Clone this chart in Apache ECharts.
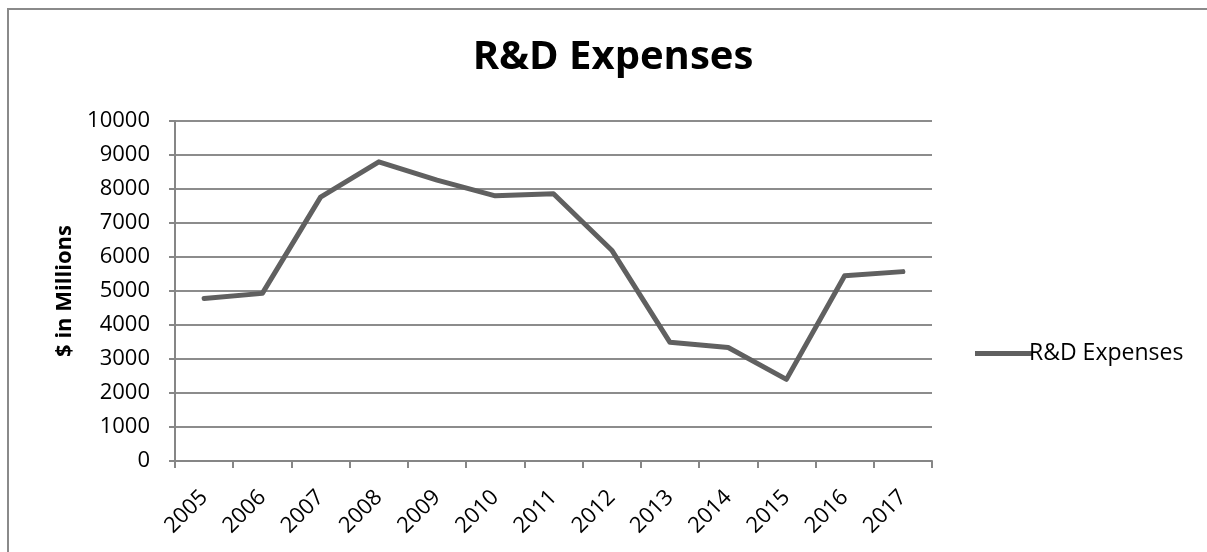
<!DOCTYPE html>
<html>
<head>
<meta charset="utf-8">
<script src="https://cdn.jsdelivr.net/npm/echarts@6/dist/echarts.min.js"></script>
<style>
html,body{margin:0;padding:0;background:#fff;overflow:hidden;width:1207px;height:552px;}
#frame{position:absolute;left:7px;top:8px;width:1210px;height:560px;border-left:2px solid #8a8a8a;border-top:2px solid #8a8a8a;box-sizing:border-box;}
#chart{position:absolute;left:0;top:0;width:1207px;height:552px;}
</style>
</head>
<body>
<div id="frame"></div>
<div id="chart"></div>
<script>
const chartTitle = 'R&D Expenses';
const seriesName = 'R&D Expenses';
const yAxisName = '$ in Millions';
const years = ['2005','2006','2007','2008','2009','2010','2011','2012','2013','2014','2015','2016','2017'];
const rdExpenses = [4780, 4930, 7760, 8800, 8260, 7800, 7860, 6200, 3490, 3340, 2400, 5450, 5570];
const yMin = 0, yMax = 10000, yStep = 1000;

const font = '"Open Sans", "Liberation Sans", sans-serif';
const chart = echarts.init(document.getElementById('chart'), null, {renderer: 'canvas'});
chart.setOption({
  backgroundColor: 'transparent',
  animation: false,
  title: {
    text: chartTitle,
    left: 608,
    textAlign: 'center',
    top: 33,
    textStyle: {fontFamily: font, fontWeight: 'bold', fontSize: 40, color: '#000'}
  },
  legend: {
    data: [seriesName],
    left: 970,
    top: 337,
    icon: 'rect',
    itemWidth: 57,
    itemHeight: 5,
    itemGap: 0,
    textStyle: {fontFamily: font, fontSize: 23, color: '#000', padding: [0,0,0,-8]}
  },
  grid: {left: 175, right: 275, top: 121, bottom: 91, containLabel: false},
  xAxis: {
    type: 'category',
    data: years,
    boundaryGap: true,
    axisLine: {lineStyle: {color: '#868686', width: 2}},
    axisTick: {show: true, length: 7, inside: false, alignWithLabel: false, lineStyle: {color: '#868686', width: 2}},
    axisLabel: {rotate: 45, margin: 33, fontFamily: font, fontSize: 22, color: '#000', interval: 0}
  },
  yAxis: {
    type: 'value',
    min: yMin, max: yMax, interval: yStep,
    name: yAxisName,
    nameLocation: 'middle',
    nameRotate: 90,
    nameGap: 99,
    nameMoveOverlap: false,
    nameTextStyle: {fontFamily: font, fontWeight: 'bold', fontSize: 22, color: '#000'},
    axisLine: {show: true, lineStyle: {color: '#868686', width: 2}},
    axisTick: {show: true, length: 6, inside: false, lineStyle: {color: '#868686', width: 2}},
    axisLabel: {margin: 25, fontFamily: font, fontSize: 22, color: '#000', formatter: v => String(v)},
    splitLine: {show: true, lineStyle: {color: '#8c8c8c', width: 2}}
  },
  series: [{
    name: seriesName,
    type: 'line',
    data: rdExpenses,
    symbol: 'none',
    lineStyle: {color: '#606060', width: 5, join: 'round', cap: 'round'},
    itemStyle: {color: '#606060'}
  }]
});
</script>
</body>
</html>
